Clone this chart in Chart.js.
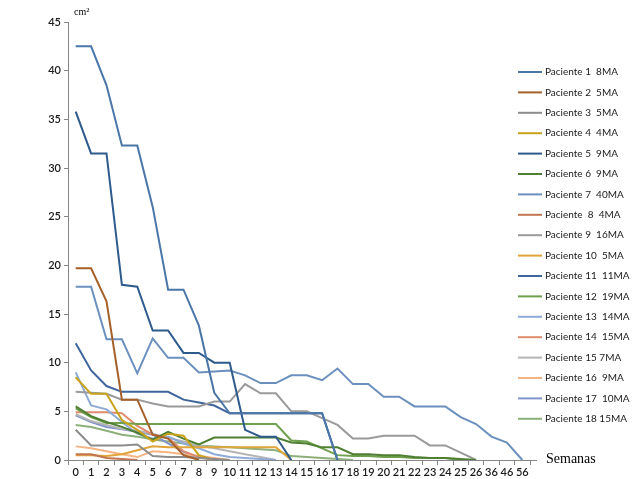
<!DOCTYPE html>
<html>
<head>
<meta charset="utf-8">
<script src="https://cdn.jsdelivr.net/npm/chart.js@4.4.1/dist/chart.umd.min.js"></script>
<style>
  html, body { margin: 0; padding: 0; background: #fff; }
  #wrap { width: 639px; height: 479px; position: relative; }
</style>
</head>
<body>
<div id="wrap"><canvas id="c" width="639" height="479"></canvas></div>
<script>
// ---- data ----
const weeks = ['0','1','2','3','4','5','6','7','8','9','10','11','12','13','14','15','16','17','18','19','20','21','22','23','24','25','26','36','46','56'];
const yTicks = [0,5,10,15,20,25,30,35,40,45];
const seriesNames = [
  'Paciente 1  8MA','Paciente 2  5MA','Paciente 3  5MA','Paciente 4  4MA','Paciente 5  9MA','Paciente 6  9MA',
  'Paciente 7  40MA','Paciente  8  4MA','Paciente 9  16MA','Paciente 10  5MA','Paciente 11  11MA','Paciente 12  19MA',
  'Paciente 13  14MA','Paciente 14  15MA','Paciente 15 7MA','Paciente 16  9MA','Paciente 17  10MA','Paciente 18 15MA'
];
const p1  = [42.5,42.5,38.5,32.3,32.3,26,17.5,17.5,13.8,6.9,4.8,4.8,4.8,4.8,4.8,4.8,4.8,0];
const p2  = [19.7,19.7,16.3,6.2,6.2,2.6,2.2,0.5,0];
const p3  = [3.1,1.5,1.5,1.5,1.6,0.4,0.3,0.3,0.2,0.1,0];
const p4  = [8.5,6.8,6.8,4.1,3.1,1.9,2.7,2.5,0.5,0];
const p5  = [35.8,31.5,31.5,18,17.8,13.3,13.3,11,11,10,10,3.1,2.4,2.4,0];
const p6  = [5.5,4.5,3.9,3.4,2.8,2.1,2.9,2.2,1.6,2.3,2.3,2.3,2.3,2.3,1.8,1.7,1.3,1.3,0.6,0.6,0.5,0.5,0.3,0.2,0.2,0.1,0];
const p7  = [17.8,17.8,12.4,12.4,8.9,12.5,10.5,10.5,9,9.1,9.2,8.7,7.9,7.9,8.7,8.7,8.2,9.4,7.8,7.8,6.5,6.5,5.5,5.5,5.5,4.4,3.7,2.4,1.8,0];
const p8  = [0.6,0.6,0.2,0.1,0];
const p9  = [7.0,6.9,6.8,6.2,6.2,5.8,5.5,5.5,5.5,6.0,6.0,7.8,6.85,6.85,5.0,5.0,4.3,3.6,2.2,2.2,2.5,2.5,2.5,1.5,1.5,0.75,0];
const p10 = [0.5,0.5,0.4,0.6,1.0,1.4,1.3,1.3,1.3,1.3,1.3,1.3,1.3,1.3,0];
const p11 = [12,9.2,7.6,7,7,7,7,6.2,5.9,5.6,4.8,4.8,4.8,4.8,4.8,4.8,4.8,0];
const p12 = [5.3,4.4,3.8,3.8,3.7,3.7,3.7,3.7,3.7,3.7,3.7,3.7,3.7,3.7,2.0,1.9,1.2,0.5,0.4,0.4,0.3,0.3,0.2,0.2,0.2,0];
const p13 = [9.0,5.6,5.2,3.9,2.7,2.2,2.4,1.7,1.2,0.6,0.3,0.2,0.1,0];
const p14 = [4.9,4.9,4.9,4.8,3.5,2.6,2.3,0.9,0.3,0];
const p15 = [4.7,4.0,3.6,3.2,3.0,2.7,2.3,1.9,1.5,1.2,0.9,0.6,0.3,0];
const p16 = [1.4,1.2,0.9,0.6,0.3,0.9,0.8,0.6,0.4,0.2,0];
const p17 = [4.6,3.9,3.4,3.15,2.9,2.6,1.7,0.85,0];
const p18 = [3.6,3.4,3.0,2.6,2.4,2.1,1.9,1.7,1.5,1.4,1.3,1.2,1.1,1.0,0.4,0.3,0.2,0.1,0];
const seriesValues = [p1,p2,p3,p4,p5,p6,p7,p8,p9,p10,p11,p12,p13,p14,p15,p16,p17,p18];
const seriesColors = [
  '#4A76A8','#A5612A','#8C8C8C','#C9A21C','#2E5A8C','#4F7F32',
  '#6B90BE','#C27550','#9A9A9A','#E0A43A','#3E669C','#6FA04E',
  '#8EAAD6','#DE8B6E','#B5B5B5','#F6B483','#8094CC','#8DB07A'
];

const FONT = 'Lato, "Open Sans", "Liberation Sans", sans-serif';

const datasets = seriesValues.map((vals, i) => ({
  label: seriesNames[i],
  data: weeks.map((_, k) => (k < vals.length ? vals[k] : null)),
  borderColor: seriesColors[i],
  backgroundColor: seriesColors[i],
  borderWidth: 2,
  pointRadius: 0,
  tension: 0,
  fill: false,
  spanGaps: false
}));

const extras = {
  id: 'extras',
  afterDraw(chart) {
    const ctx = chart.ctx;
    const area = chart.chartArea;
    ctx.save();
    // small extension of the category axis line past the last tick
    ctx.strokeStyle = '#868686';
    ctx.lineWidth = 1;
    ctx.beginPath();
    ctx.moveTo(area.right, Math.round(area.bottom) + 0.5);
    ctx.lineTo(area.right + 7, Math.round(area.bottom) + 0.5);
    ctx.stroke();
    // legend
    const x0 = 518, y0 = 72, step = 20.4;
    chart.data.datasets.forEach((ds, i) => {
      const y = y0 + i * step;
      ctx.strokeStyle = ds.borderColor;
      ctx.lineWidth = 2;
      ctx.beginPath();
      ctx.moveTo(x0, y);
      ctx.lineTo(x0 + 24, y);
      ctx.stroke();
      ctx.fillStyle = '#1a1a1a';
      ctx.font = '10px ' + FONT;
      ctx.textBaseline = 'middle';
      ctx.textAlign = 'left';
      ctx.fillText(ds.label, x0 + 27, y);
    });
    // axis titles
    ctx.fillStyle = '#000';
    ctx.font = '10px "Liberation Serif", "DejaVu Serif", serif';
    ctx.textBaseline = 'alphabetic';
    ctx.fillText('cm²', 74, 15);
    ctx.font = '14px "Liberation Serif", "DejaVu Serif", serif';
    ctx.fillText('Semanas', 546, 463);
    ctx.restore();
  }
};

new Chart(document.getElementById('c'), {
  type: 'line',
  data: { labels: weeks, datasets },
  options: {
    responsive: false,
    devicePixelRatio: 1,
    animation: false,
    layout: { padding: { top: 22, right: 109, bottom: 0, left: 0 } },
    plugins: { legend: { display: false }, tooltip: { enabled: false }, title: { display: false } },
    scales: {
      x: {
        type: 'category',
        offset: true,
        grid: { display: true, drawOnChartArea: false, offset: true, tickLength: 5, color: '#868686' },
        border: { display: true, color: '#868686', width: 1 },
        ticks: { color: '#1a1a1a', font: { family: FONT, size: 11, weight: '600' }, maxRotation: 0, autoSkip: false, padding: 1 },
        afterFit(s) { s.height = 19; }
      },
      y: {
        min: 0, max: 45,
        afterBuildTicks(s) { s.ticks = yTicks.map(v => ({ value: v })); },
        grid: { display: true, drawOnChartArea: false, tickLength: 4, color: '#868686' },
        border: { display: true, color: '#868686', width: 1 },
        ticks: { color: '#1a1a1a', font: { family: FONT, size: 11, weight: '600' }, padding: 3 },
        afterFit(s) { s.width = 68; }
      }
    }
  },
  plugins: [extras]
});
</script>
</body>
</html>
